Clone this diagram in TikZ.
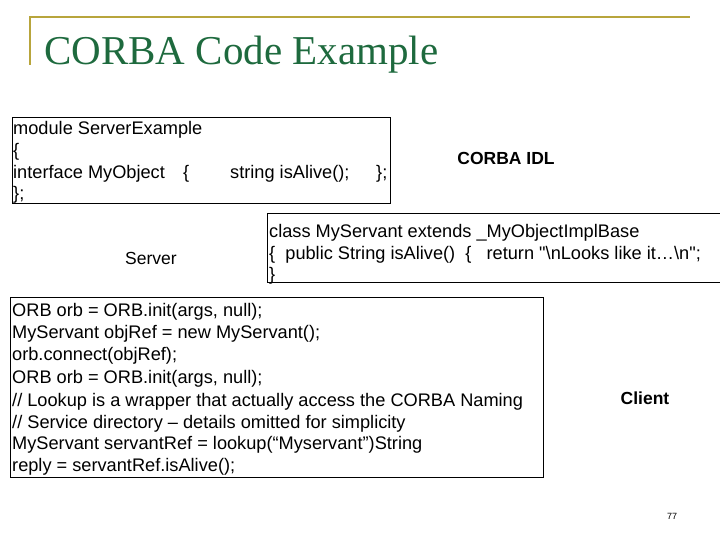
\documentclass[tikz,border=0pt]{standalone}
\usepackage{fontspec}
\setmainfont{Liberation Sans}
\newfontfamily\titlefont{Liberation Serif}
\definecolor{gold}{HTML}{B8A53C}
\definecolor{tgreen}{HTML}{1E6A3E}
\begin{document}
\begin{tikzpicture}[x=1pt,y=-1pt,
  code/.style={anchor=base west,inner sep=0pt,font=\fontsize{18.2}{20}\selectfont},
  lbl/.style={anchor=center,inner sep=0pt,font=\fontsize{17.5}{20}\selectfont\bfseries},
  box/.style={draw=black,line width=0.8pt}]
\useasboundingbox (0,0) rectangle (720,540);
\draw[gold,line width=1.5pt] (30,65) -- (30,17) -- (690,17);
\node[anchor=base west,inner sep=0pt,text=tgreen,font=\titlefont\fontsize{41}{44}\selectfont] (title) at (44,65) {CORBA Code Example};
\draw[box] (12,117) rectangle (390,203);
\node[code] (a1) at (13,135) {module ServerExample};
\node[code] (a2) at (13,157) {\{};
\node[code] (a3) at (13,179) {interface MyObject};
\node[code] (a3b) at (183,179) {\{};
\node[code] (a4) at (230,179) {string isAlive();};
\node[code] (a5) at (376,179) {\};};
\node[code] (a6) at (13,200) {\};};
\node[lbl] (idl) at (506,158) {CORBA IDL};
\draw[box] (267,213) rectangle (721,282);
\node[code] (b1) at (269,237) {class MyServant extends \_MyObjectImplBase};
\node[code] (b2) at (269,259) {\{\ \ public String isAlive()\ \ \{\ \ \ return \textquotedbl\textbackslash nLooks like it\ldots\textbackslash n\textquotedbl;};
\node[code] (b3) at (269,280) {\}};
\node[lbl,font=\fontsize{17.5}{20}\selectfont] (srv) at (151,258) {Server};
\draw[box] (10,297) rectangle (543,477);
\node[code] (c1) at (12,316) {ORB orb = ORB.init(args, null);};
\node[code] (c2) at (12,338) {MyServant objRef = new MyServant();};
\node[code] (c3) at (12,360) {orb.connect(objRef);};
\node[code] (c4) at (12,383) {ORB orb = ORB.init(args, null);};
\node[code] (c5) at (12,406) {// Lookup is a wrapper that actually access the CORBA Naming};
\node[code] (c6) at (12,428) {// Service directory -- details omitted for simplicity};
\node[code] (c7) at (12,449) {MyServant servantRef = lookup(“Myservant”)String};
\node[code] (c8) at (12,471) {reply = servantRef.isAlive();};
\node[lbl] (cli) at (645,398) {Client};
\node[anchor=center,inner sep=0pt,font=\fontsize{9}{10}\selectfont] (pg) at (672,516) {77};
\end{tikzpicture}
\end{document}
